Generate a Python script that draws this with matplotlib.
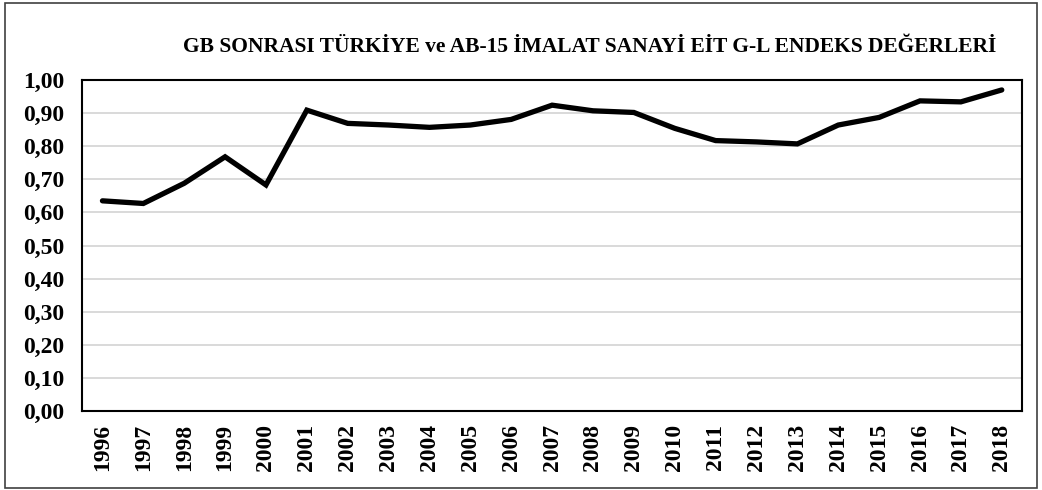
import matplotlib
matplotlib.use("Agg")
import matplotlib.pyplot as plt
from matplotlib.patches import Rectangle
from matplotlib.ticker import FuncFormatter

years = [str(y) for y in range(1996, 2019)]
gl_index = [0.635, 0.627, 0.688, 0.768, 0.683, 0.909, 0.869, 0.864, 0.857,
            0.864, 0.881, 0.924, 0.907, 0.902, 0.854, 0.817, 0.813, 0.807,
            0.864, 0.887, 0.937, 0.934, 0.970]

title = "GB SONRASI TÜRKİYE ve AB-15 İMALAT SANAYİ EİT G-L ENDEKS DEĞERLERİ"

plt.rcParams['font.family'] = ['Liberation Serif', 'DejaVu Serif']
plt.rcParams['font.weight'] = 'bold'

fig = plt.figure(figsize=(10.42, 4.9), dpi=100)
ax = fig.add_axes([0.0787, 0.1612, 0.9023, 0.6755])

x = range(len(years))
ax.plot(x, gl_index, color="black", linewidth=3.8,
        solid_joinstyle="miter", solid_capstyle="round", zorder=3)

ax.set_xlim(-0.5, len(years) - 0.5)
ax.set_ylim(0, 1.0)
ax.set_yticks([i / 10 for i in range(11)])
ax.yaxis.set_major_formatter(FuncFormatter(lambda v, p: f"{v:.2f}".replace(".", ",")))
ax.set_xticks(list(x))
ax.set_xticklabels(years, rotation=90)

ax.grid(axis="y", color="#d9d9d9", linewidth=1.4)
ax.set_axisbelow(True)
ax.tick_params(axis="y", length=0, labelsize=17, pad=13)
ax.tick_params(axis="x", length=0, labelsize=17, pad=9)
for lbl in ax.get_xticklabels() + ax.get_yticklabels():
    lbl.set_fontweight("bold")
for s in ax.spines.values():
    s.set_linewidth(1.5)
    s.set_color("black")

fig.text(0.566, 0.904, title, ha="center", va="center",
         fontsize=15.5, fontweight="bold")

# outer border
fig.patches.append(Rectangle((0.005, 0.004), 0.99, 0.99, transform=fig.transFigure,
                             fill=False, edgecolor="#404040", linewidth=1.2))

fig.savefig("out.png", dpi=100)
